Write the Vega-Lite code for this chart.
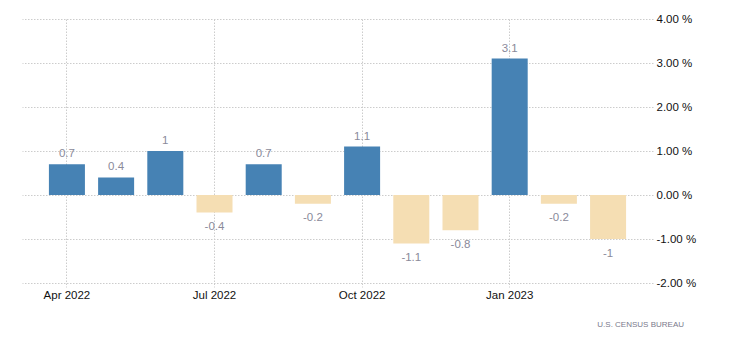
{
  "$schema": "https://vega.github.io/schema/vega-lite/v6.json",
  "width": 631,
  "height": 264,
  "autosize": {"type": "none"},
  "padding": {"left": 22, "top": 19, "right": 77, "bottom": 66},
  "background": "white",
  "config": {
    "view": {"stroke": null},
    "font": "Liberation Sans",
    "axis": {"domain": false, "gridColor": "#cccccc", "gridDash": [1.5, 1.5], "gridWidth": 1, "labelFont": "Liberation Sans", "labelColor": "#111111", "labelFontSize": 11.5}
  },
  "title": {
    "text": "U.S.  CENSUS  BUREAU",
    "orient": "bottom",
    "anchor": "end",
    "frame": "group",
    "fontSize": 8,
    "fontWeight": "normal",
    "color": "#7a7a8c",
    "offset": 20,
    "dx": 31
  },
  "data": {
    "values": [
      {"month": "Apr 2022", "value": 0.7},
      {"month": "May 2022", "value": 0.4},
      {"month": "Jun 2022", "value": 1},
      {"month": "Jul 2022", "value": -0.4},
      {"month": "Aug 2022", "value": 0.7},
      {"month": "Sep 2022", "value": -0.2},
      {"month": "Oct 2022", "value": 1.1},
      {"month": "Nov 2022", "value": -1.1},
      {"month": "Dec 2022", "value": -0.8},
      {"month": "Jan 2023", "value": 3.1},
      {"month": "Feb 2023", "value": -0.2},
      {"month": "Mar 2023", "value": -1}
    ]
  },
  "encoding": {
    "x": {
      "field": "month",
      "type": "ordinal",
      "sort": null,
      "scale": {"paddingInner": 0.268, "paddingOuter": 0.547},
      "axis": {
        "title": null,
        "values": ["Apr 2022", "Jul 2022", "Oct 2022", "Jan 2023"],
        "bandPosition": 0.5,
        "labelAngle": 0,
        "grid": true,
        "ticks": true,
        "tickSize": 4,
        "tickColor": "#cccccc",
        "tickDash": [1.5, 1.5],
        "labelPadding": 2
      }
    },
    "y": {
      "field": "value",
      "type": "quantitative",
      "scale": {"domain": [-2, 4], "nice": false},
      "axis": {
        "orient": "right",
        "title": null,
        "values": [-2, -1, 0, 1, 2, 3, 4],
        "labelExpr": "replace(format(datum.value, '.2f'), '\u2212', '-') + ' %'",
        "ticks": false,
        "labelPadding": 3,
        "grid": true
      }
    }
  },
  "layer": [
    {
      "mark": {"type": "bar", "width": {"band": 1}},
      "encoding": {
        "color": {
          "condition": {"test": "datum.value >= 0", "value": "#4682b4"},
          "value": "#f5deb3"
        }
      }
    },
    {
      "transform": [{"filter": "datum.value >= 0"}],
      "mark": {"type": "text", "baseline": "alphabetic", "dy": -7, "fontSize": 11.5, "color": "#8a8a9a"},
      "encoding": {"text": {"field": "value", "type": "nominal"}}
    },
    {
      "transform": [{"filter": "datum.value < 0"}],
      "mark": {"type": "text", "baseline": "alphabetic", "dy": 17.5, "fontSize": 11.5, "color": "#8a8a9a"},
      "encoding": {"text": {"field": "value", "type": "nominal"}}
    }
  ]
}
